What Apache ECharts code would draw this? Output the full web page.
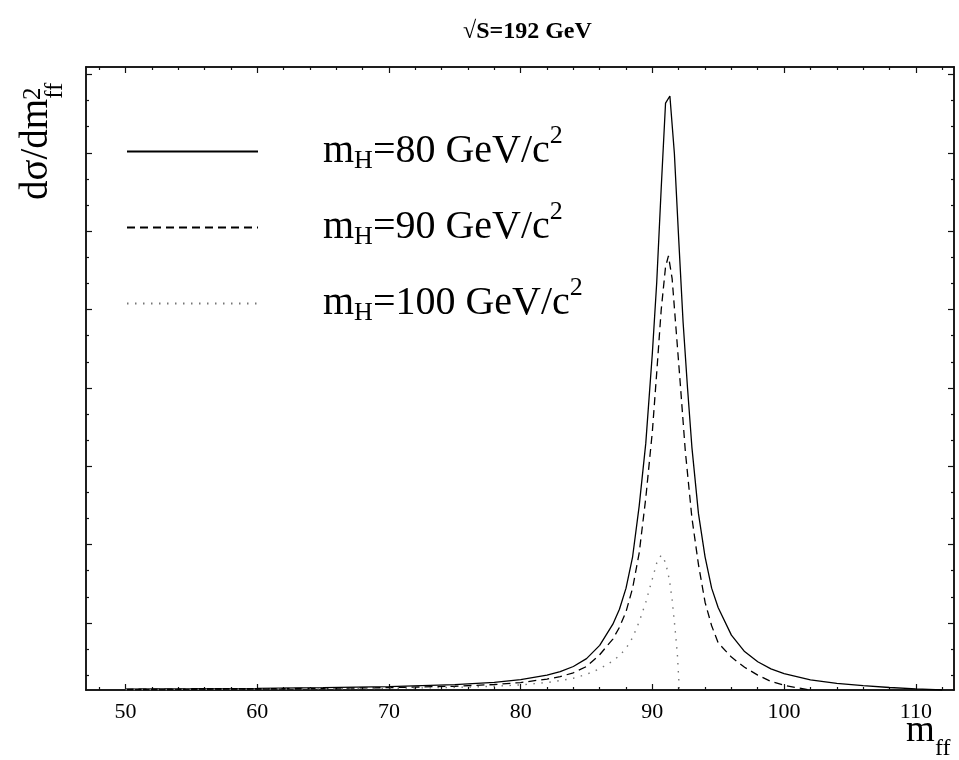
<!DOCTYPE html>
<html>
<head>
<meta charset="utf-8">
<script src="https://cdn.jsdelivr.net/npm/echarts@6/dist/echarts.min.js"></script>
<style>
  html, body { margin: 0; padding: 0; background: #fff; }
  #chart { width: 959px; height: 760px; }
</style>
</head>
<body>
<div id="chart"></div>
<script>
// m_ff (GeV) and dσ/dm_ff (arbitrary units) for the three Higgs masses
const mff80 = [50, 55, 60, 65, 70, 75, 78, 80, 82, 83, 84, 85, 86, 87, 87.5, 88, 88.5, 89, 89.5, 90, 90.33, 90.67, 91, 91.33,
  91.67, 92, 92.33, 92.67, 93, 93.5, 94, 94.5, 95, 96, 97, 98, 99, 100, 102, 104, 106, 108, 110, 112];
const dsig80 = [0.012, 0.016, 0.022, 0.031, 0.043, 0.068, 0.098, 0.132, 0.19, 0.235, 0.3, 0.4, 0.57, 0.84, 1.03, 1.3, 1.7, 2.35, 3.15, 4.3, 5.2, 6.4, 7.49, 7.58,
  6.85, 5.75, 4.7, 3.85, 3.1, 2.25, 1.7, 1.3, 1.05, 0.7, 0.49, 0.36, 0.27, 0.21, 0.13, 0.085, 0.055, 0.032, 0.014, 0];

const mff90 = [50, 55, 60, 65, 70, 75, 78, 80, 82, 83, 84, 85, 86, 87, 87.5, 88, 88.5, 89, 89.5, 90, 90.33, 90.67, 91, 91.22,
  91.5, 91.8, 92.1, 92.5, 93, 93.5, 94, 94.5, 95, 96, 97, 98, 99, 100, 101, 101.5, 102];
const dsig90 = [0.009, 0.012, 0.016, 0.022, 0.03, 0.048, 0.07, 0.095, 0.14, 0.17, 0.22, 0.3, 0.45, 0.65, 0.8, 1.0, 1.3, 1.75, 2.45, 3.3, 4.05, 4.85, 5.4, 5.54,
  5.25, 4.6, 3.95, 3.05, 2.2, 1.6, 1.12, 0.82, 0.6, 0.42, 0.29, 0.19, 0.11, 0.06, 0.028, 0.014, 0];

const mff100 = [50, 55, 60, 65, 70, 75, 78, 80, 82, 83, 84, 85, 86, 87, 87.5, 88, 88.5, 89, 89.5, 90, 90.33, 90.67,
  91, 91.3, 91.5, 91.73, 91.9, 92, 92.05];
const dsig100 = [0.006, 0.008, 0.011, 0.015, 0.021, 0.033, 0.048, 0.065, 0.095, 0.12, 0.15, 0.2, 0.27, 0.37, 0.44, 0.53, 0.67, 0.87, 1.12, 1.42, 1.62, 1.72,
  1.63, 1.4, 1.15, 0.77, 0.45, 0.15, 0];

const higgsMasses = ['80', '90', '100'];
const xTickLabels = [50, 60, 70, 80, 90, 100, 110];
const xMinorTicks = [48, 52, 54, 56, 58, 62, 64, 66, 68, 72, 74, 76, 78, 82, 84, 86, 88, 92, 94, 96, 98, 102, 104, 106, 108, 112];
const yMajorTicks = [0.855, 1.855, 2.855, 3.855, 4.855, 5.855, 6.855, 7.855];
const yMinorTicks = [0.188, 0.522, 1.188, 1.522, 2.188, 2.522, 3.188, 3.522, 4.188, 4.522, 5.188, 5.522, 6.188, 6.522, 7.188, 7.522];

const X_MIN = 47, X_MAX = 112.9, Y_MIN = 0, Y_MAX = 7.95;
const SERIF = 'Liberation Serif';

const chart = echarts.init(document.getElementById('chart'));

const pairs = (xs, ys) => xs.map((x, i) => [x, ys[i]]);
const seriesName = m => 'm_H=' + m + ' GeV/c^2';

// one frame side: ticks (major or minor) on the inside
function xSide(pos, ticks, len, withLabels) {
  return {
    type: 'value', position: pos, min: X_MIN, max: X_MAX,
    axisLine: { onZero: false, lineStyle: { color: '#111', width: 1.5 } },
    axisTick: { inside: true, length: len, customValues: ticks, lineStyle: { color: '#111', width: 1.2 } },
    axisLabel: withLabels
      ? { customValues: xTickLabels, margin: 11, fontFamily: SERIF, fontSize: 22, color: '#000' }
      : { show: false },
    splitLine: { show: false }
  };
}
function ySide(pos, ticks, len) {
  return {
    type: 'value', position: pos, min: Y_MIN, max: Y_MAX,
    axisLine: { onZero: false, lineStyle: { color: '#111', width: 1.5 } },
    axisTick: { inside: true, length: len, customValues: ticks, lineStyle: { color: '#111', width: 1.2 } },
    axisLabel: { show: false },
    splitLine: { show: false }
  };
}

const option = {
  animation: false,
  backgroundColor: '#fff',
  title: {
    text: '√S=192 GeV',
    left: 463, top: 20, padding: 0,
    textStyle: { fontFamily: SERIF, fontSize: 24, fontWeight: 'bold', color: '#000' }
  },
  grid: { left: 86, right: 5, top: 67, bottom: 70, containLabel: false, outerBoundsMode: 'none' },
  legend: {
    orient: 'vertical', left: 126, top: 123, padding: 0,
    itemWidth: 131, itemHeight: 14, itemGap: 19,
    selectedMode: false,
    itemStyle: { opacity: 0 },
    data: higgsMasses.map(seriesName),
    formatter: name => {
      const m = name.match(/=(\d+)/)[1];
      return '{sp| }{m|m}{sub|H}{m|=' + m + ' GeV/c}{sup|2}';
    },
    textStyle: {
      rich: {
        sp: { width: 60, fontSize: 10 },
        m: { fontFamily: SERIF, fontSize: 40, lineHeight: 40, color: '#000' },
        sub: { fontFamily: SERIF, fontSize: 26, lineHeight: 26, color: '#000', padding: [20, 0, 0, 0] },
        sup: { fontFamily: SERIF, fontSize: 26, lineHeight: 26, color: '#000', padding: [0, 0, 31, 0] }
      }
    }
  },
  xAxis: [
    xSide('bottom', xTickLabels, 6, true),
    xSide('bottom', xMinorTicks, 3, false),
    xSide('top', xTickLabels, 6, false),
    xSide('top', xMinorTicks, 3, false)
  ],
  yAxis: [
    ySide('left', yMajorTicks, 6),
    ySide('left', yMinorTicks, 3),
    ySide('right', yMajorTicks, 6),
    ySide('right', yMinorTicks, 3)
  ],
  graphic: [
    // y axis title, reading upwards
    {
      type: 'text', x: 37, y: 200, rotation: Math.PI / 2,
      style: {
        text: '{a|dσ/dm}{b|ff}', align: 'left', verticalAlign: 'middle',
        rich: {
          a: { fontFamily: SERIF, fontSize: 39, lineHeight: 39, fill: '#000' },
          b: { fontFamily: SERIF, fontSize: 25, lineHeight: 25, fill: '#000', padding: [37, 0, 0, 0] }
        }
      }
    },
    {
      type: 'text', x: 33, y: 100, rotation: Math.PI / 2,
      style: { text: '2', align: 'left', verticalAlign: 'middle', font: '25px "Liberation Serif"', fill: '#000' }
    },
    // x axis title
    {
      type: 'text', x: 906, y: 731,
      style: { text: 'm', align: 'left', verticalAlign: 'middle', font: '37px "Liberation Serif"', fill: '#000' }
    },
    {
      type: 'text', x: 935, y: 749,
      style: { text: 'ff', align: 'left', verticalAlign: 'middle', font: '24px "Liberation Serif"', fill: '#000' }
    }
  ],
  series: [
    {
      name: seriesName('80'), type: 'line', data: pairs(mff80, dsig80),
      symbol: 'none', showSymbol: false, itemStyle: { color: '#000' },
      lineStyle: { color: '#000', width: 1.3 }
    },
    {
      name: seriesName('90'), type: 'line', data: pairs(mff90, dsig90),
      symbol: 'none', showSymbol: false, itemStyle: { color: '#000' },
      lineStyle: { color: '#000', width: 1.3, type: [8, 5] }
    },
    {
      name: seriesName('100'), type: 'line', data: pairs(mff100, dsig100),
      symbol: 'none', showSymbol: false, itemStyle: { color: '#777' },
      lineStyle: { color: '#777', width: 1.4, type: [1.5, 6.5] }
    }
  ]
};

chart.setOption(option);
</script>
</body>
</html>
